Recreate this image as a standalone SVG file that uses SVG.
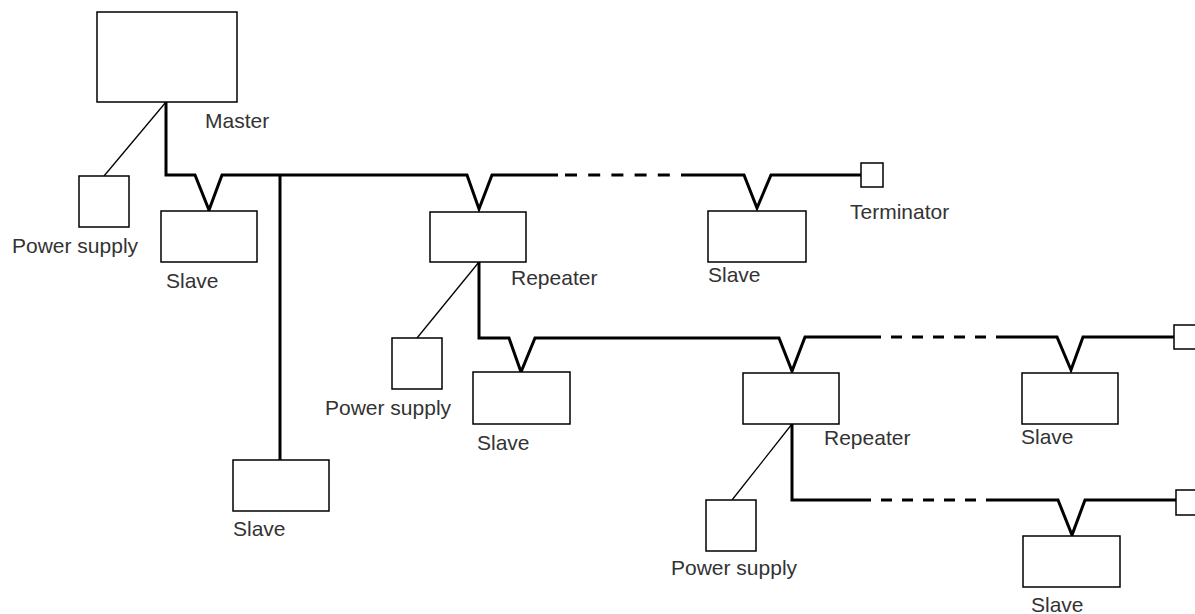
<svg xmlns="http://www.w3.org/2000/svg" width="1195" height="614" viewBox="0 0 1195 614">
<style>
.box{fill:#fff;stroke:#000;stroke-width:1.5}
.bus{fill:none;stroke:#000;stroke-width:3;stroke-linejoin:miter;stroke-miterlimit:10}
.dash1{fill:none;stroke:#000;stroke-width:3;stroke-dasharray:12 11.2}
.dash2{fill:none;stroke:#000;stroke-width:3;stroke-dasharray:11 10}
.thin{fill:none;stroke:#000;stroke-width:1.3}
.lbl{font-family:"Liberation Sans",Arial,sans-serif;font-size:21px;fill:#333}
</style>
<rect width="1195" height="614" fill="#fff"/>
<g id="connectors">
<path class="thin" d="M166,102 L104,176"/>
<path class="thin" d="M479,262 L417,338"/>
<path class="thin" d="M792,424 L732,500"/>
<path class="bus" d="M166,102 V175 H195 L209,210 L222,175 H467 L479,209 L492,175 H558"/>
<path class="dash1" d="M565,175 H683"/>
<path class="bus" d="M683,175 H744 L757,208 L771,175 H861"/>
<path class="bus" d="M280,175 V460"/>
<path class="bus" d="M479,262 V338 H509 L521,372 L535,338 H779 L792,371 L805,337 H870"/>
<path class="dash2" d="M870,337 H996"/>
<path class="bus" d="M996,337 H1057 L1071,370 L1083,337 H1174"/>
<path class="bus" d="M792,424 V500 H860"/>
<path class="dash2" d="M860,500 H986"/>
<path class="bus" d="M986,500 H1058 L1072,535 L1085,500 H1176"/>
</g>
<g id="master"><rect class="box" x="97" y="12" width="140" height="90"/><text class="lbl" x="205" y="128">Master</text></g>
<g id="power1"><rect class="box" x="79" y="176" width="50" height="51"/><text class="lbl" x="12" y="253">Power supply</text></g>
<g id="slave1"><rect class="box" x="161" y="211" width="96" height="51"/><text class="lbl" x="166" y="288">Slave</text></g>
<g id="slave-bl"><rect class="box" x="233" y="460" width="96" height="51"/><text class="lbl" x="233" y="536">Slave</text></g>
<g id="repeater1"><rect class="box" x="430" y="212" width="96" height="50"/><text class="lbl" x="511" y="285">Repeater</text></g>
<g id="slave2"><rect class="box" x="708" y="211" width="98" height="51"/><text class="lbl" x="708" y="282">Slave</text></g>
<g id="terminator1"><rect class="box" x="861" y="163" width="22" height="24"/><text class="lbl" x="850" y="219">Terminator</text></g>
<g id="power2"><rect class="box" x="392" y="338" width="50" height="51"/><text class="lbl" x="325" y="415">Power supply</text></g>
<g id="slave3"><rect class="box" x="473" y="372" width="97" height="52"/><text class="lbl" x="477" y="450">Slave</text></g>
<g id="repeater2"><rect class="box" x="743" y="373" width="96" height="51"/><text class="lbl" x="824" y="445">Repeater</text></g>
<g id="slave4"><rect class="box" x="1022" y="373" width="96" height="51"/><text class="lbl" x="1021" y="444">Slave</text></g>
<g id="terminator2"><rect class="box" x="1174" y="325" width="24" height="24"/></g>
<g id="power3"><rect class="box" x="706" y="500" width="50" height="51"/><text class="lbl" x="671" y="575">Power supply</text></g>
<g id="slave5"><rect class="box" x="1023" y="536" width="97" height="51"/><text class="lbl" x="1031" y="612">Slave</text></g>
<g id="terminator3"><rect class="box" x="1176" y="490" width="24" height="25"/></g>
</svg>
